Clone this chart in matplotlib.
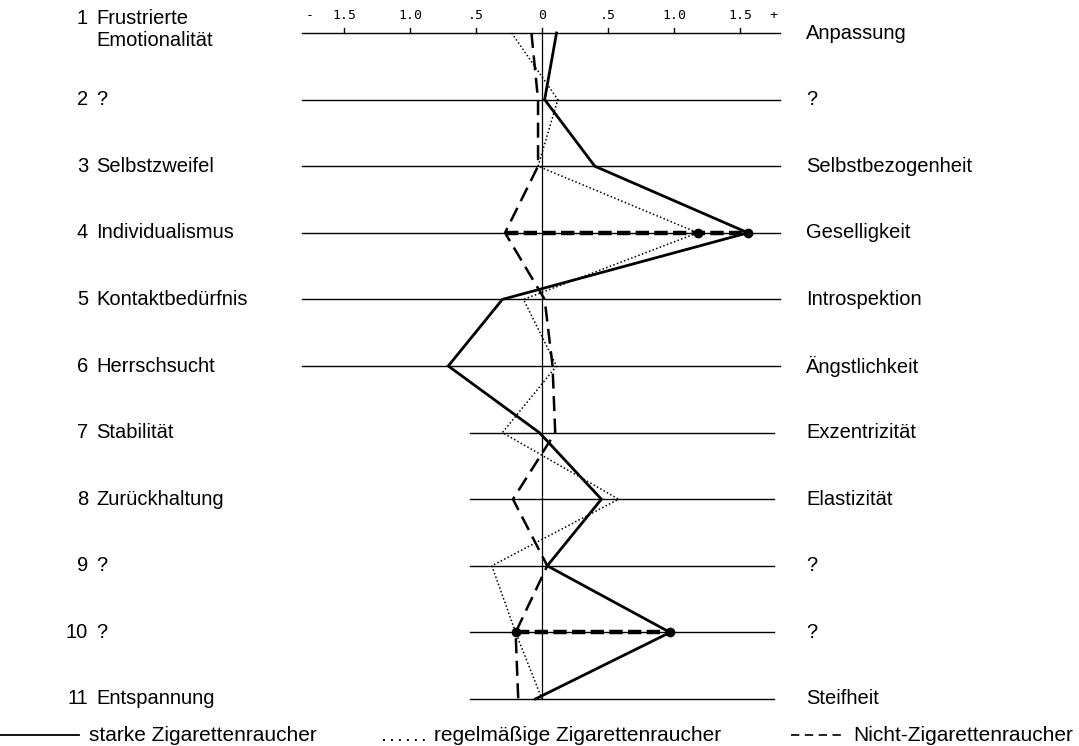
import matplotlib
matplotlib.use("Agg")
import matplotlib.pyplot as plt

# Skalen links/rechts
rows = list(range(1, 12))
left_labels = ["Frustrierte\nEmotionalität", "?", "Selbstzweifel", "Individualismus",
               "Kontaktbedürfnis", "Herrschsucht", "Stabilität", "Zurückhaltung",
               "?", "?", "Entspannung"]
right_labels = ["Anpassung", "?", "Selbstbezogenheit", "Geselligkeit", "Introspektion",
                "Ängstlichkeit", "Exzentrizität", "Elastizität", "?", "?", "Steifheit"]

# Profilwerte
starke = [0.11, 0.02, 0.40, 1.56, -0.30, -0.71, -0.02, 0.45, 0.04, 0.97, -0.05]
regelmaessig = [-0.23, 0.12, -0.03, 1.18, -0.14, 0.11, -0.30, 0.58, -0.38, -0.20, 0.00]
nicht = [-0.08, -0.03, -0.03, -0.28, 0.02, 0.08, 0.10, -0.22, 0.04, -0.20, -0.18]

# markierte Unterschiede (Zeile, von, bis, Punkte)
sig_rows = [4, 10]
sig_from = [-0.28, -0.20]
sig_to = [1.56, 0.97]
sig_dots = [[1.18, 1.56], [-0.20, 0.97]]

tick_vals = [-1.5, -1.0, -0.5, 0, 0.5, 1.0, 1.5]
tick_text = ["1.5", "1.0", ".5", "0", ".5", "1.0", "1.5"]

W, H = 1079, 746
x0, ppu = 542, 132
y0, ppr = 33, 66.6

def px(x):
    return (x - x0) / ppu

fig = plt.figure(figsize=(W / 100, H / 100), dpi=100)
ax = fig.add_axes([0, 0, 1, 1])
ax.set_xlim(px(0), px(W))
ax.set_ylim(1 + (H - y0) / ppr, 1 - y0 / ppr)
ax.axis("off")

# Grundlinien
for r in rows:
    if r <= 6:
        ax.plot([-1.82, 1.80], [r, r], color="black", lw=1.0)
    else:
        ax.plot([-0.545, 1.76], [r, r], color="black", lw=1.0)
ax.plot([0, 0], [1, 11], color="black", lw=0.9)

# Skala oben
mono = "DejaVu Sans Mono"
for v, t in zip(tick_vals, tick_text):
    ax.plot([v, v], [1, 0.93], color="black", lw=1.0)
    ax.text(v, 0.84, t, ha="center", va="bottom", fontsize=9.5, family=mono)
ax.text(-1.76, 0.84, "-", ha="center", va="bottom", fontsize=9.5, family=mono)
ax.text(1.75, 0.84, "+", ha="center", va="bottom", fontsize=9.5, family=mono)

# Profile
ax.plot(starke, rows, color="black", lw=2.0, solid_joinstyle="miter")
ax.plot(regelmaessig, rows, color="black", lw=1.1, linestyle=(0, (1, 1.5)))
ax.plot(nicht, rows, color="black", lw=1.8, linestyle=(0, (6, 3)))

for r, a, b, dots in zip(sig_rows, sig_from, sig_to, sig_dots):
    ax.plot([a, b], [r, r], color="black", lw=3.2, linestyle=(0, (3, 1.2)))
    ax.plot(dots, [r] * len(dots), "o", color="black", ms=6)

# Beschriftung
font = "Liberation Sans"
fs = 14.5
for r, lab, rlab in zip(rows, left_labels, right_labels):
    if "\n" in lab:
        first, second = lab.split("\n")
        ax.text(px(88), r - 0.22, str(r), ha="right", va="center", fontsize=fs, family=font)
        ax.text(px(96), r - 0.22, first, ha="left", va="center", fontsize=fs, family=font)
        ax.text(px(96), r + 0.11, second, ha="left", va="center", fontsize=fs, family=font)
    else:
        ax.text(px(88), r, str(r), ha="right", va="center", fontsize=fs, family=font)
        ax.text(px(96), r, lab, ha="left", va="center", fontsize=fs, family=font)
    ax.text(px(806), r, rlab, ha="left", va="center", fontsize=fs, family=font)

# Legende
ly = 1 + (735 - y0) / ppr
lfs = 15
ax.plot([px(0), px(79)], [ly, ly], color="black", lw=1.3)
ax.text(px(89), ly, "starke Zigarettenraucher", ha="left", va="center",
        fontsize=lfs, family=font)
ax.plot([px(383), px(425)], [ly + 0.08, ly + 0.08], color="black", lw=1.4,
        linestyle=(0, (1, 3.1)))
ax.text(px(434), ly, "regelmäßige Zigarettenraucher", ha="left", va="center",
        fontsize=lfs, family=font)
ax.plot([px(791), px(845)], [ly, ly], color="black", lw=1.2, linestyle=(0, (5, 3.3)))
ax.text(px(853), ly, "Nicht-Zigarettenraucher", ha="left", va="center",
        fontsize=lfs, family=font)

fig.savefig("out.png", dpi=100)
